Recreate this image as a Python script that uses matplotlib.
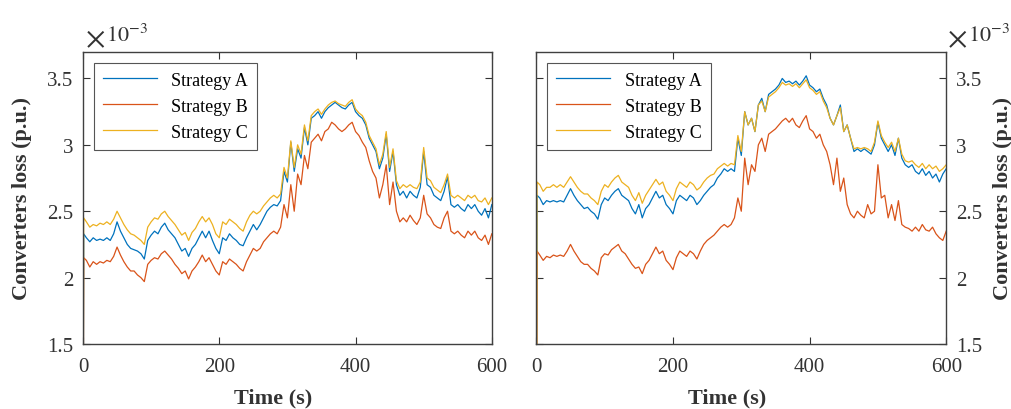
import matplotlib
matplotlib.use("Agg")
import matplotlib.pyplot as plt

plt.rcParams['font.family'] = ['Liberation Serif', 'DejaVu Serif']
plt.rcParams['mathtext.fontset'] = 'stix'

# Time axis (s); first sample is the start-up transient below the axis
time = [0, 1] + list(range(5, 605, 5))

# Left panel (x1e-3 p.u.)
left_a = [0, 2.33, 2.30, 2.27, 2.30, 2.28, 2.29, 2.28, 2.30, 2.28, 2.33, 2.42, 2.35, 2.30, 2.25, 2.22, 2.21, 2.20, 2.18, 2.14, 2.28,
          2.32, 2.35, 2.33, 2.38, 2.41, 2.36, 2.33, 2.30, 2.25, 2.20, 2.22, 2.16, 2.22, 2.25, 2.30, 2.35, 2.30, 2.35, 2.28, 2.22,
          2.18, 2.30, 2.28, 2.33, 2.30, 2.28, 2.25, 2.24, 2.30, 2.35, 2.40, 2.36, 2.40, 2.45, 2.50, 2.53, 2.55, 2.54, 2.58, 2.80,
          2.72, 3.02, 2.80, 2.97, 2.90, 3.13, 3.00, 3.20, 3.22, 3.25, 3.20, 3.25, 3.28, 3.30, 3.32, 3.30, 3.28, 3.27, 3.30, 3.32,
          3.25, 3.22, 3.20, 3.15, 3.05, 3.00, 2.95, 2.82, 2.90, 3.08, 2.80, 2.95, 2.70, 2.62, 2.65, 2.60, 2.65, 2.62, 2.60, 2.68,
          2.95, 2.70, 2.68, 2.62, 2.60, 2.58, 2.65, 2.76, 2.55, 2.53, 2.55, 2.52, 2.50, 2.55, 2.52, 2.55, 2.50, 2.47, 2.52, 2.45,
          2.55]
left_b = [0, 2.15, 2.13, 2.08, 2.12, 2.10, 2.12, 2.11, 2.13, 2.12, 2.16, 2.23, 2.17, 2.12, 2.08, 2.05, 2.05, 2.02, 2.00, 1.97, 2.10,
          2.13, 2.15, 2.14, 2.18, 2.20, 2.17, 2.14, 2.10, 2.07, 2.03, 2.05, 1.99, 2.05, 2.08, 2.12, 2.17, 2.12, 2.15, 2.10, 2.05,
          2.02, 2.12, 2.10, 2.14, 2.12, 2.10, 2.07, 2.05, 2.12, 2.17, 2.22, 2.20, 2.22, 2.27, 2.30, 2.33, 2.35, 2.33, 2.38, 2.55,
          2.45, 2.70, 2.50, 2.78, 2.70, 2.92, 2.82, 3.02, 3.05, 3.08, 3.03, 3.10, 3.12, 3.17, 3.15, 3.12, 3.10, 3.12, 3.15, 3.17,
          3.10, 3.07, 3.02, 2.98, 2.88, 2.80, 2.75, 2.60, 2.70, 2.85, 2.55, 2.72, 2.50, 2.42, 2.45, 2.42, 2.47, 2.43, 2.40, 2.45,
          2.62, 2.48, 2.45, 2.40, 2.38, 2.37, 2.45, 2.50, 2.35, 2.33, 2.35, 2.32, 2.30, 2.35, 2.32, 2.35, 2.30, 2.28, 2.32, 2.25,
          2.33]
left_c = [0, 2.45, 2.42, 2.38, 2.40, 2.39, 2.41, 2.40, 2.42, 2.40, 2.44, 2.50, 2.45, 2.40, 2.36, 2.33, 2.32, 2.30, 2.28, 2.25, 2.38,
          2.42, 2.45, 2.44, 2.48, 2.50, 2.46, 2.43, 2.40, 2.36, 2.32, 2.34, 2.28, 2.34, 2.37, 2.42, 2.46, 2.42, 2.45, 2.40, 2.33,
          2.30, 2.42, 2.40, 2.44, 2.42, 2.40, 2.37, 2.35, 2.42, 2.47, 2.50, 2.48, 2.50, 2.54, 2.57, 2.60, 2.62, 2.60, 2.63, 2.83,
          2.75, 3.03, 2.83, 3.00, 2.93, 3.15, 3.03, 3.22, 3.25, 3.27, 3.23, 3.27, 3.30, 3.32, 3.33, 3.31, 3.30, 3.29, 3.32, 3.34,
          3.27, 3.24, 3.22, 3.17, 3.07, 3.02, 2.97, 2.85, 2.93, 3.10, 2.83, 2.97, 2.73, 2.67, 2.70, 2.68, 2.70, 2.68, 2.67, 2.72,
          2.98, 2.75, 2.73, 2.68, 2.66, 2.64, 2.70, 2.78, 2.62, 2.60, 2.62, 2.60, 2.58, 2.62, 2.60, 2.62, 2.58, 2.57, 2.60, 2.55,
          2.60]

# Right panel (x1e-3 p.u.)
right_a = [0, 2.62, 2.60, 2.55, 2.58, 2.57, 2.58, 2.57, 2.58, 2.57, 2.62, 2.67, 2.62, 2.58, 2.55, 2.52, 2.53, 2.50, 2.48, 2.44, 2.55,
           2.60, 2.58, 2.62, 2.65, 2.67, 2.62, 2.60, 2.58, 2.52, 2.48, 2.55, 2.45, 2.52, 2.55, 2.60, 2.65, 2.60, 2.62, 2.55, 2.52,
           2.48, 2.58, 2.62, 2.60, 2.58, 2.62, 2.60, 2.55, 2.58, 2.62, 2.65, 2.68, 2.70, 2.75, 2.78, 2.82, 2.80, 2.82, 2.80, 3.05,
           2.92, 3.25, 3.15, 3.20, 3.10, 3.30, 3.35, 3.25, 3.38, 3.40, 3.42, 3.45, 3.50, 3.47, 3.48, 3.46, 3.48, 3.45, 3.48, 3.52,
           3.45, 3.43, 3.40, 3.42, 3.35, 3.30, 3.20, 3.15, 3.22, 3.30, 3.10, 3.15, 3.05, 2.95, 2.97, 2.95, 2.97, 2.95, 2.93, 3.00,
           3.17, 3.05, 3.00, 2.95, 3.00, 2.92, 3.05, 2.90, 2.85, 2.83, 2.85, 2.80, 2.78, 2.82, 2.77, 2.80, 2.75, 2.78, 2.72, 2.78,
           2.82]
right_b = [0, 2.20, 2.17, 2.13, 2.16, 2.15, 2.17, 2.16, 2.17, 2.16, 2.20, 2.25, 2.20, 2.16, 2.12, 2.10, 2.10, 2.07, 2.05, 2.02, 2.15,
           2.18, 2.17, 2.21, 2.23, 2.25, 2.20, 2.18, 2.14, 2.10, 2.07, 2.08, 2.03, 2.10, 2.13, 2.18, 2.23, 2.18, 2.20, 2.13, 2.10,
           2.06, 2.15, 2.20, 2.18, 2.16, 2.20, 2.18, 2.14, 2.20, 2.25, 2.28, 2.30, 2.32, 2.35, 2.38, 2.40, 2.38, 2.40, 2.45, 2.60,
           2.50, 2.90, 2.70, 2.85, 2.80, 3.00, 3.05, 2.95, 3.08, 3.10, 3.12, 3.15, 3.18, 3.20, 3.17, 3.20, 3.15, 3.13, 3.18, 3.22,
           3.12, 3.10, 3.05, 3.08, 3.00, 2.95, 2.85, 2.70, 2.90, 2.65, 2.75, 2.55, 2.48, 2.45, 2.50, 2.47, 2.45, 2.55, 2.48, 2.50,
           2.85, 2.60, 2.62, 2.45, 2.55, 2.43, 2.58, 2.40, 2.38, 2.37, 2.35, 2.38, 2.35, 2.40, 2.36, 2.35, 2.38, 2.33, 2.30, 2.28,
           2.35]
right_c = [0, 2.72, 2.70, 2.65, 2.68, 2.68, 2.70, 2.68, 2.70, 2.68, 2.72, 2.76, 2.72, 2.68, 2.65, 2.63, 2.63, 2.60, 2.58, 2.55, 2.65,
           2.70, 2.68, 2.72, 2.75, 2.77, 2.72, 2.70, 2.68, 2.62, 2.58, 2.64, 2.56, 2.62, 2.66, 2.70, 2.74, 2.70, 2.72, 2.65, 2.62,
           2.58, 2.67, 2.72, 2.70, 2.68, 2.72, 2.70, 2.66, 2.68, 2.72, 2.75, 2.77, 2.78, 2.82, 2.84, 2.86, 2.84, 2.86, 2.85, 3.07,
           2.95, 3.25, 3.15, 3.20, 3.10, 3.30, 3.33, 3.25, 3.36, 3.38, 3.40, 3.43, 3.47, 3.45, 3.46, 3.44, 3.46, 3.43, 3.46, 3.49,
           3.43, 3.41, 3.38, 3.40, 3.33, 3.28, 3.20, 3.15, 3.22, 3.28, 3.10, 3.15, 3.05, 2.97, 2.98, 2.97, 2.98, 2.97, 2.95, 3.02,
           3.18, 3.07, 3.02, 2.98, 3.02, 2.95, 3.05, 2.93, 2.88, 2.87, 2.88, 2.85, 2.83, 2.86, 2.82, 2.85, 2.82, 2.84, 2.80, 2.82,
           2.85]

labels = ["Strategy A", "Strategy B", "Strategy C"]
colors = ["#0072BD", "#D95319", "#EDB120"]
yticks = [1.5, 2, 2.5, 3, 3.5]
ytick_labels = ["1.5", "2", "2.5", "3", "3.5"]
xticks = [0, 200, 400, 600]

fig = plt.figure(figsize=(10.12, 4.10), dpi=100)
ax1 = fig.add_axes([0.082, 0.1585, 0.404, 0.7125])
ax2 = fig.add_axes([0.530, 0.1585, 0.405, 0.7125])

panels = [(ax1, [left_a, left_b, left_c], "left"), (ax2, [right_a, right_b, right_c], "right")]
for ax, series, side in panels:
    for vals, lab, col in zip(series, labels, colors):
        ax.plot(time, vals, color=col, lw=0.9, label=lab)
    ax.set_xlim(0, 600)
    ax.set_ylim(1.5, 3.7)
    ax.set_xticks(xticks)
    ax.set_yticks(yticks)
    ax.set_yticklabels(ytick_labels)
    ax.tick_params(direction="in", length=5, width=0.8, labelsize=15, colors="#333333",
                   top=True, right=True, left=True, bottom=True)
    ax.tick_params(axis="x", pad=9)
    ax.tick_params(axis="y", pad=7)
    for sp in ax.spines.values():
        sp.set_color("#404040")
        sp.set_linewidth(1.0)
    ax.set_xlabel("Time (s)", fontsize=16, fontweight="bold", color="#333333")
    ax.xaxis.set_label_coords(0.465, -0.15)
    ax.set_ylabel("Converters loss (p.u.)", fontsize=16, fontweight="bold", color="#333333")
    if side == "right":
        ax.yaxis.tick_right()
        ax.tick_params(left=True, labelleft=False, labelright=True)
        ax.yaxis.set_label_position("right")
        ax.yaxis.set_label_coords(1.115, 0.5)
    else:
        ax.yaxis.set_label_coords(-0.125, 0.5)
    leg = ax.legend(loc="upper left", fontsize=13, handlelength=3.0, fancybox=False,
                    framealpha=1, edgecolor="#555555", borderaxespad=0.6, labelspacing=0.5,
                    borderpad=0.5)
    leg.get_frame().set_linewidth(0.8)

# exponent labels
fig.text(0.084, 0.868, r"$\times$", fontsize=22, color="#333333", ha="left", va="bottom")
fig.text(0.105, 0.885, r"$10^{-3}$", fontsize=16, color="#333333", ha="left", va="bottom")
fig.text(0.936, 0.868, r"$\times$", fontsize=22, color="#333333", ha="left", va="bottom")
fig.text(0.957, 0.885, r"$10^{-3}$", fontsize=16, color="#333333", ha="left", va="bottom")

fig.savefig("out.png", dpi=100)
